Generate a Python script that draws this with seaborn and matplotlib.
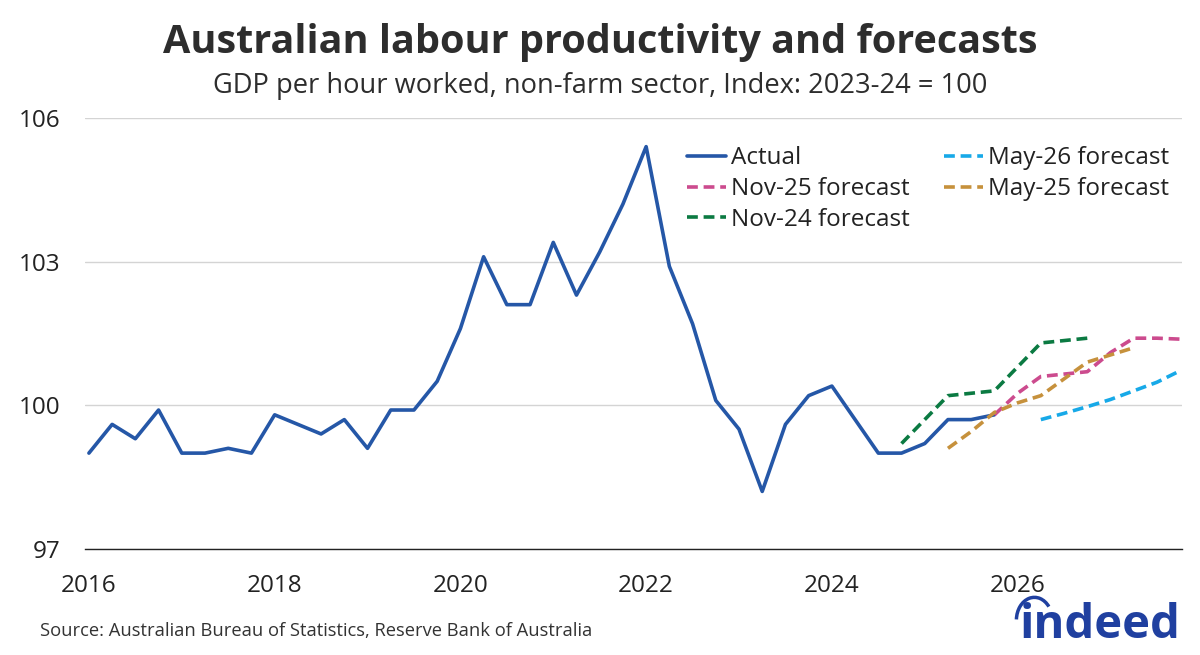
import matplotlib
matplotlib.use("Agg")
import matplotlib.pyplot as plt
from matplotlib.patches import Arc
import seaborn as sns
import numpy as np
import pandas as pd

# quarterly data, first actual point = 2016 Q1 (index 0)
actual = [99.0, 99.6, 99.3, 99.9, 99.0, 99.0, 99.1, 99.0,
          99.8, 99.6, 99.4, 99.7, 99.1, 99.9, 99.9, 100.5,
          101.6, 103.1, 102.1, 102.1, 103.4, 102.3, 103.2, 104.2,
          105.4, 102.9, 101.7, 100.1, 99.5, 98.2, 99.6, 100.2,
          100.4, 99.7, 99.0, 99.0, 99.2, 99.7, 99.7, 99.8]
nov24 = [99.2, 99.7, 100.2, 100.25, 100.3, 100.8, 101.3, 101.35, 101.4]
nov24_start = 35
may25 = [99.1, 99.45, 99.85, 100.05, 100.2, 100.55, 100.9, 101.05, 101.2]
may25_start = 37
nov25 = [99.8, 100.25, 100.6, 100.65, 100.7, 101.1, 101.4, 101.4, 101.38]
nov25_start = 39
may26 = [99.7, 99.83, 99.97, 100.12, 100.3, 100.48, 100.72]
may26_start = 41

year_ticks = [2016, 2018, 2020, 2022, 2024, 2026]
y_ticks = [97, 100, 103, 106]

series = [
    ("Actual", actual, 0, "#2557a7", "-"),
    ("Nov-25 forecast", nov25, nov25_start, "#cc4b8e", (0, (3, 1.6))),
    ("Nov-24 forecast", nov24, nov24_start, "#0b7a42", (0, (3, 1.6))),
    ("May-26 forecast", may26, may26_start, "#17a9e8", (0, (3, 1.6))),
    ("May-25 forecast", may25, may25_start, "#c6913c", (0, (3, 1.6))),
]

sns.set_theme(style="white")
plt.rcParams['font.family'] = ['Open Sans', 'DejaVu Sans']

fig = plt.figure(figsize=(12, 6.55), dpi=100)
ax = fig.add_axes([0.071, 0.162, 0.914, 0.658])

for name, vals, start, col, ls in series:
    d = pd.DataFrame({'t': 2016 + (start + np.arange(len(vals))) / 4, 'v': vals})
    sns.lineplot(data=d, x='t', y='v', ax=ax, color=col, linestyle=ls,
                 linewidth=2.6, label=name)

ax.set_xlim(2015.96, 2027.77)
ax.set_ylim(97, 106)
ax.set_xticks(year_ticks)
ax.set_xticklabels([str(y) for y in year_ticks])
ax.set_yticks(y_ticks)
ax.set_xlabel('')
ax.set_ylabel('')
ax.yaxis.grid(True, color='#d4d4d4', linewidth=1)
ax.xaxis.grid(False)
for s in ['top', 'right', 'left']:
    ax.spines[s].set_visible(False)
ax.spines['bottom'].set_color('#222222')
ax.spines['bottom'].set_linewidth(1)
ax.tick_params(axis='both', length=0, labelsize=17.5, labelcolor='#222222')
ax.tick_params(axis='y', pad=18)
ax.tick_params(axis='x', pad=18)

leg = ax.legend(ncol=2, loc='upper right', bbox_to_anchor=(1.008, 0.985),
                frameon=False, fontsize=17.5, handlelength=1.6,
                handletextpad=0.2, columnspacing=1.4, labelspacing=0.28)
for t in leg.get_texts():
    t.set_color('#222222')

fig.text(0.5, 0.935, 'Australian labour productivity and forecasts',
         ha='center', va='center', fontsize=28.5, fontweight='bold', color='#2d2d2d')
fig.text(0.5, 0.868, 'GDP per hour worked, non-farm sector, Index: 2023-24 = 100',
         ha='center', va='center', fontsize=19.6, color='#2d2d2d')
fig.text(0.033, 0.037, 'Source: Australian Bureau of Statistics, Reserve Bank of Australia',
         ha='left', va='center', fontsize=13.2, color='#333333')
fig.text(0.984, 0.045, 'indeed', ha='right', va='center', fontsize=34,
         fontweight='bold', color='#2040a0')
# arc over the "i" of the logo
fig.add_artist(Arc((0.862, 0.053), 0.03, 0.07, theta1=60, theta2=175,
                   transform=fig.transFigure, color='#2040a0', linewidth=2.5))

fig.savefig('out.png', dpi=100)
